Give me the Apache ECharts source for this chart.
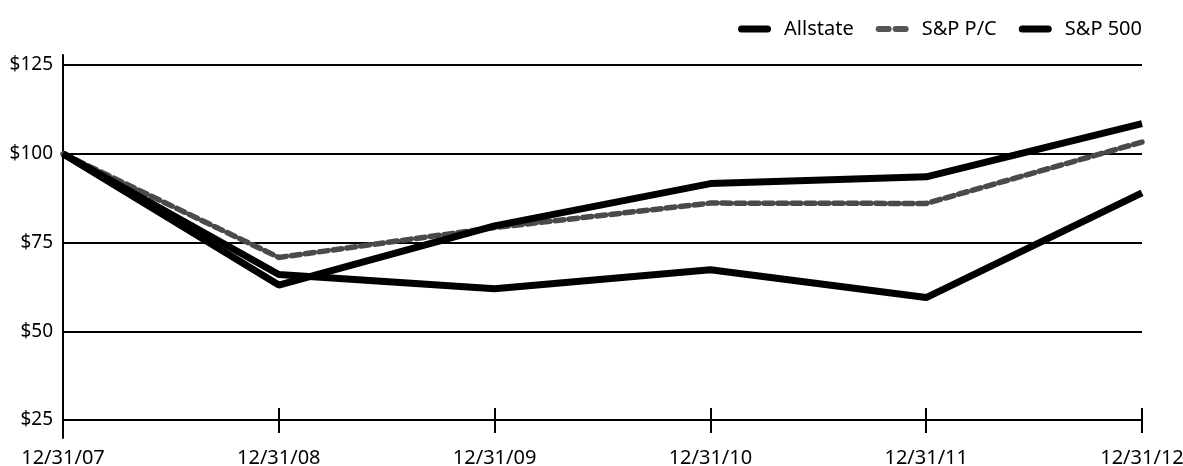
<!DOCTYPE html>
<html>
<head>
<meta charset="utf-8">
<script src="https://cdn.jsdelivr.net/npm/echarts@6/dist/echarts.min.js"></script>
<style>html,body{margin:0;padding:0;background:#fff}#c{width:1183px;height:466px}</style>
</head>
<body>
<div id="c"></div>
<script>
const categories = ['12/31/07', '12/31/08', '12/31/09', '12/31/10', '12/31/11', '12/31/12'];
const allstate = [100, 66, 62, 67.3, 59.5, 89];
const spPC = [100, 70.8, 79.2, 86.1, 86.0, 103.3];
const sp500 = [100, 63.0, 79.7, 91.6, 93.5, 108.5];
const yTicks = [25, 125, 25]; // min, max, interval

const FONT = 'Noto Sans';
const solidIcon = 'path://M3.5,0H29.5A3.5,3.5,0,0,1,29.5,7H3.5A3.5,3.5,0,0,1,3.5,0Z';
const dashIcon = 'path://M3,0H13A3,3,0,0,1,13,6H3A3,3,0,0,1,3,0Z M20,0H30A3,3,0,0,1,30,6H20A3,3,0,0,1,20,0Z';
const chart = echarts.init(document.getElementById('c'));
chart.setOption({
  animation: false,
  backgroundColor: '#fff',
  textStyle: { fontFamily: FONT, color: '#000' },
  legend: {
    top: 14, right: 36, itemGap: 22, itemWidth: 33, itemHeight: 7,
    textStyle: { fontFamily: FONT, fontSize: 20, color: '#000', padding: [0, 0, 0, 8] },
    data: [
      { name: 'Allstate', icon: solidIcon, itemStyle: { color: '#000', borderWidth: 0 } },
      { name: 'S&P P/C', icon: dashIcon, itemStyle: { color: '#555', borderWidth: 0, borderType: 'solid' }, lineStyle: { width: 0, type: 'solid', opacity: 0 } },
      { name: 'S&P 500', icon: solidIcon, itemStyle: { color: '#000', borderWidth: 0 } }
    ]
  },
  grid: [
    { left: 63, right: 41, top: 65, bottom: 46, outerBoundsMode: 'none' },
    { left: 63, right: 41, top: 55, bottom: 28, outerBoundsMode: 'none' }
  ],
  xAxis: [
    {
      type: 'category', gridIndex: 0, data: categories, boundaryGap: false,
      axisLine: { show: true, lineStyle: { color: '#000', width: 2 } },
      axisTick: { show: true, length: 13, lineStyle: { color: '#000', width: 2 } },
      axisLabel: { fontSize: 20, color: '#000', margin: 28, fontFamily: FONT, showMinLabel: true, showMaxLabel: true },
      splitLine: { show: false }
    },
    {
      type: 'category', gridIndex: 0, data: categories, boundaryGap: false, position: 'bottom',
      axisLine: { show: false },
      axisTick: { show: true, inside: true, length: 12, lineStyle: { color: '#000', width: 2 } },
      axisLabel: { show: false }, splitLine: { show: false }
    },
    {
      type: 'category', gridIndex: 1, data: categories, boundaryGap: false, show: false
    }
  ],
  yAxis: [
    {
      type: 'value', gridIndex: 0, min: yTicks[0], max: yTicks[1], interval: yTicks[2],
      axisLine: { show: false }, axisTick: { show: false },
      axisLabel: { fontSize: 19, color: '#000', margin: 10, fontFamily: FONT, formatter: v => '$' + v },
      splitLine: { show: true, lineStyle: { color: '#000', width: 2 } }
    },
    {
      type: 'value', gridIndex: 1, min: 0, max: 100,
      axisLine: { show: true, lineStyle: { color: '#000', width: 2 } },
      axisTick: { show: false }, axisLabel: { show: false }, splitLine: { show: false }
    }
  ],
  series: [
    {
      name: 'S&P P/C', type: 'line', data: spPC, symbol: 'none', xAxisIndex: 0, yAxisIndex: 0,
      itemStyle: { color: '#555' },
      lineStyle: { color: '#4a4a4a', width: 5.5, type: [9, 5], cap: 'round' }
    },
    {
      name: 'Allstate', type: 'line', data: allstate, symbol: 'none', xAxisIndex: 0, yAxisIndex: 0,
      itemStyle: { color: '#000' },
      lineStyle: { color: '#000', width: 7 }
    },
    {
      name: 'S&P 500', type: 'line', data: sp500, symbol: 'none', xAxisIndex: 0, yAxisIndex: 0,
      itemStyle: { color: '#000' },
      lineStyle: { color: '#000', width: 7 }
    }
  ]
});
</script>
</body>
</html>
